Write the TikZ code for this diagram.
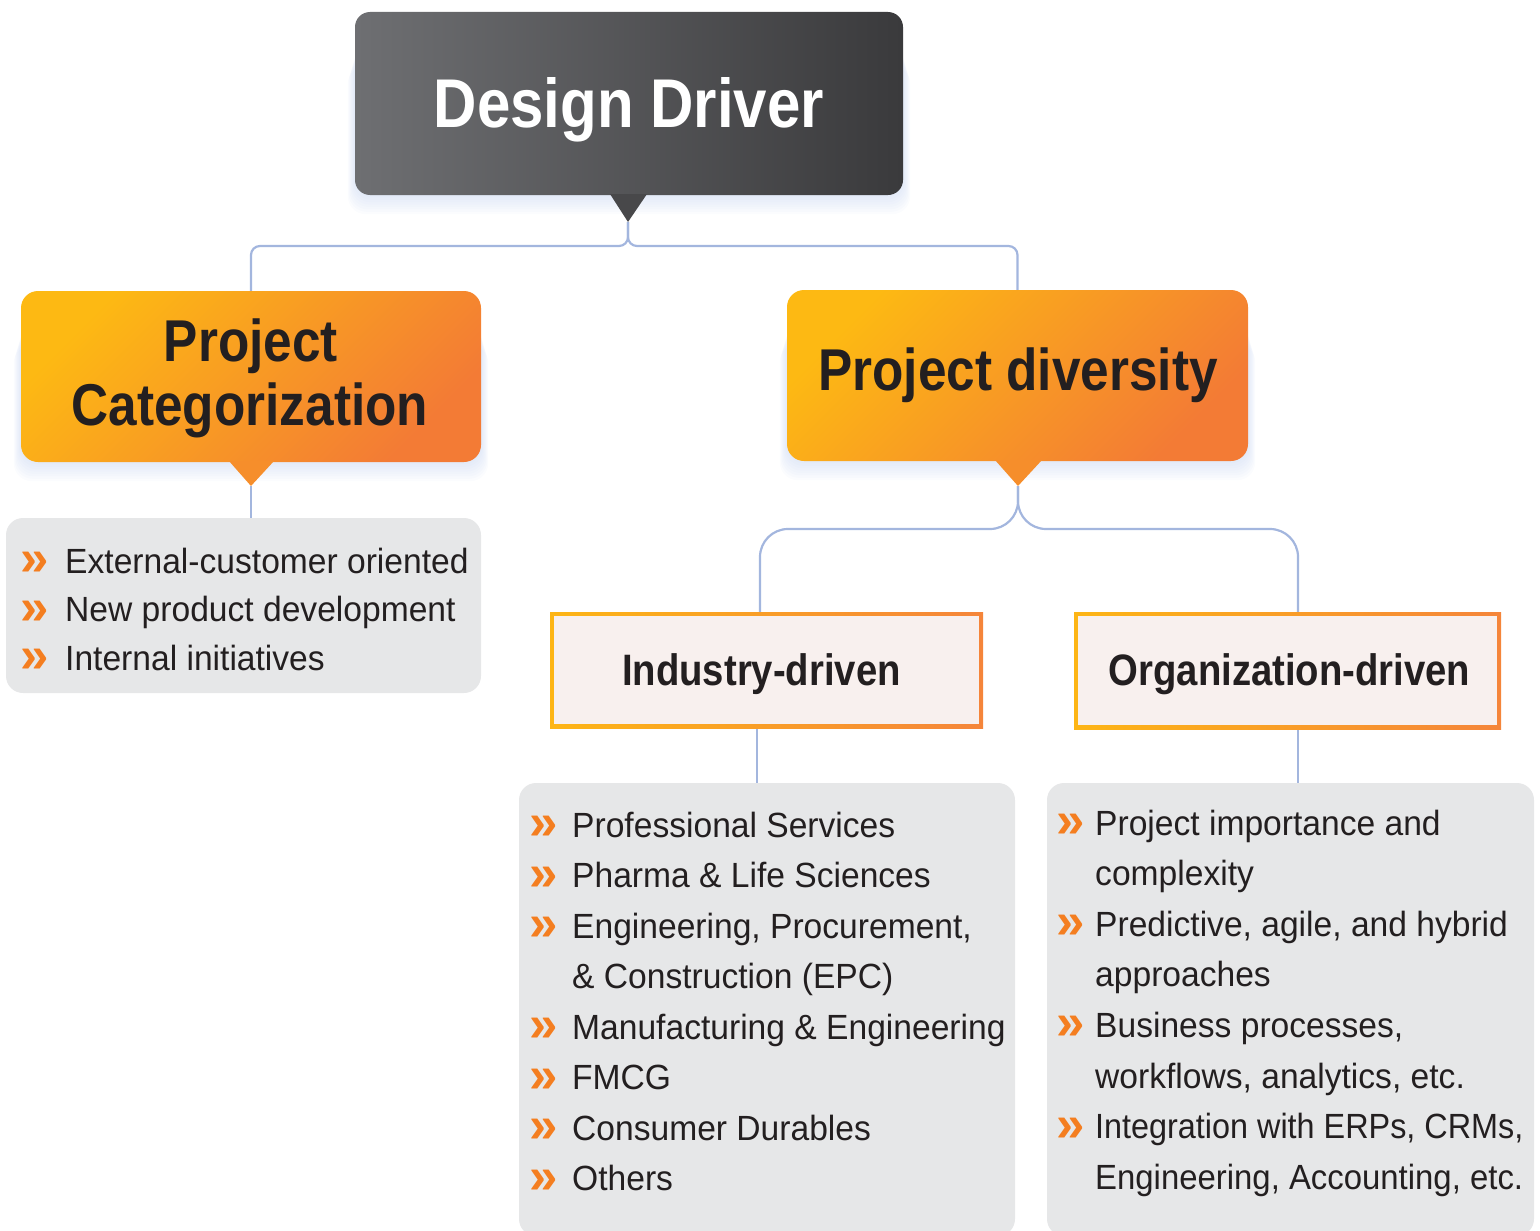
\documentclass[tikz,border=0pt]{standalone}
\usepackage{fontspec}
\newfontfamily\headfont[FakeStretch=0.87]{Liberation Sans}
\newfontfamily\bodyfont[FakeStretch=0.96]{Liberation Sans}
\newfontfamily\bodynarrow[FakeStretch=0.925]{Liberation Sans}
\newfontfamily\bodysemi[FakeStretch=0.94]{Liberation Sans}
\newfontfamily\bulfont{Liberation Sans}
\pgfdeclarelayer{glowlayer}
\pgfdeclarelayer{linelayer}
\pgfsetlayers{glowlayer,linelayer,main}

\definecolor{hdrL}{HTML}{6E6F72}
\definecolor{hdrR}{HTML}{3A3A3C}
\definecolor{hdrTip}{HTML}{48484A}
\definecolor{orA}{HTML}{FDB913}
\definecolor{orB}{HTML}{F37B35}
\definecolor{orTip}{HTML}{F68E2B}
\definecolor{bordL}{HTML}{FDB515}
\definecolor{bordR}{HTML}{F5853A}
\definecolor{pinkfill}{HTML}{F8F0EE}
\definecolor{listgray}{HTML}{E6E7E8}
\definecolor{connc}{HTML}{A3B6DE}
\definecolor{ink}{HTML}{231F20}
\definecolor{bulc}{HTML}{F47E20}
\definecolor{glowc}{HTML}{B9CBEE}

\tikzset{
  box/.style={rectangle, inner sep=0pt, outer sep=0pt, anchor=north west},
  hdrbox/.style={box, rounded corners=15pt, left color=hdrL, right color=hdrR},
  orbox/.style={box, rounded corners=17pt, top color=orA, bottom color=orB, shading angle=45},
  brdbox/.style={box, left color=bordL, right color=bordR},
  pinkbox/.style={rectangle, inner sep=0pt, outer sep=0pt, fill=pinkfill},
  listbox/.style={box, rounded corners=17pt, fill=listgray},
  connector/.style={draw=connc, line width=2.2pt},
  headtxt/.style={anchor=base, inner sep=0pt, text=ink},
  bigtxt/.style={headtxt, font=\headfont\bfseries\fontsize{69pt}{69pt}\selectfont},
  midtxt/.style={headtxt, font=\headfont\bfseries\fontsize{59pt}{59pt}\selectfont},
  smalltxt/.style={headtxt, font=\headfont\bfseries\fontsize{44pt}{44pt}\selectfont},
  itemtxt/.style={anchor=base west, inner sep=0pt, text=ink, font=\bodyfont\fontsize{35pt}{35pt}\selectfont},
  bul/.style={anchor=base west, inner sep=0pt, yshift=-2.5pt, text=bulc, font=\bulfont\bfseries\fontsize{51pt}{51pt}\selectfont}
}

\newcommand\glowrect[4]{%
  \foreach \k in {1,...,8}{%
    \fill[glowc, opacity=0.06, rounded corners=18pt]
      ({#1-\k*0.9},{#2+30+\k*3}) rectangle ({#3+\k*0.9},{#4+\k*2.4});
  }%
}
\newcommand\listitem[5]{%
  \node[bul] (#1b) at (#2,#4) {»};
  \node[itemtxt] (#1t) at (#3,#4) {#5};
}
\newcommand\listcont[4]{%
  \node[itemtxt] (#1t) at (#2,#3) {#4};
}

\begin{document}
\begin{tikzpicture}[x=1pt,y=-1pt]
\useasboundingbox (0,0) rectangle (1540,1231);

% glows
\begin{pgfonlayer}{glowlayer}
  \glowrect{355}{12}{903}{195}
  \glowrect{21}{291}{481}{462}
  \glowrect{787}{290}{1248}{461}
\end{pgfonlayer}

% header
\node[hdrbox, minimum width=548pt, minimum height=183pt] (hdr) at (355,12) {};
\fill[hdrTip] (610,194) -- (647,194) -- (628,222) -- cycle;
\coordinate (hdrtip) at (628,222);
\node[bigtxt, text=white] (hdrtxt) at (629,128) {Design Driver};

% Project Categorization
\node[orbox, minimum width=460pt, minimum height=171pt] (cat) at (21,291) {};
\fill[orTip] (229,461) -- (274,461) -- (251,486) -- cycle;
\coordinate (cattip) at (251,486);
\node[midtxt] (cattxta) at (251,361) {Project};
\node[midtxt] (cattxtb) at (250,425) {Categorization};

% Project diversity
\node[orbox, minimum width=461pt, minimum height=171pt] (div) at (787,290) {};
\fill[orTip] (995,460) -- (1042,460) -- (1018,486) -- cycle;
\coordinate (divtip) at (1018,486);
\node[midtxt] (divtxt) at (1018,390) {Project diversity};

% Industry-driven
\node[brdbox, minimum width=433pt, minimum height=116pt] (ind) at (550,612) {};
\node[pinkbox, minimum width=425pt, minimum height=108pt] (indin) at (ind.center) {};
\node[smalltxt] (indtxt) at (761.5,685) {Industry-driven};

% Organization-driven
\node[brdbox, minimum width=427pt, minimum height=117pt] (org) at (1074,612) {};
\node[pinkbox, minimum width=419pt, minimum height=109pt] (orgin) at (org.center) {};
\node[smalltxt] (orgtxt) at (1289.5,685) {Organization-driven};

% list boxes
\node[listbox, minimum width=475pt, minimum height=175pt] (catlist) at (6,518) {};
\node[listbox, minimum width=496pt, minimum height=453pt] (indlist) at (519,783) {};
\node[listbox, minimum width=487pt, minimum height=453pt] (orglist) at (1047,783) {};

% connectors
\coordinate (forka) at (0,246);
\coordinate (forkb) at (0,529);
\coordinate (indx) at (760,0);
\coordinate (indlx) at (757,0);
\coordinate (orgx) at (1298,0);
\begin{pgfonlayer}{linelayer}
  \draw[connector, rounded corners=9pt] (hdrtip) -- (hdrtip |- forka) -- (cat.north |- forka) -- (cat.north);
  \draw[connector, rounded corners=9pt] (hdrtip) -- (hdrtip |- forka) -- (div.north |- forka) -- (div.north);
  \draw[connector] (cattip) -- (catlist.north -| cattip);
  \draw[connector, rounded corners=28pt] (divtip) -- (divtip |- forkb) -- (indx |- forkb) -- (ind.north -| indx);
  \draw[connector, rounded corners=28pt] (divtip) -- (divtip |- forkb) -- (orgx |- forkb) -- (org.north -| orgx);
  \draw[connector] (ind.south -| indlx) -- (indlist.north -| indlx);
  \draw[connector] (org.south -| orgx) -- (orglist.north -| orgx);
\end{pgfonlayer}

% list 1
\listitem{la}{20}{65}{573}{External-customer oriented}
\listitem{lb}{20}{65}{621.5}{New product development}
\listitem{lc}{20}{65}{670}{Internal initiatives}

% list 2
\listitem{ma}{529}{572}{837}{Professional Services}
\listitem{mb}{529}{572}{887.5}{Pharma \& Life Sciences}
\listitem{mc}{529}{572}{938}{Engineering, Procurement,}
\listcont{md}{572}{988.5}{\& Construction (EPC)}
\listitem{me}{529}{572}{1039}{Manufacturing \& Engineering}
\listitem{mf}{529}{572}{1089.5}{FMCG}
\listitem{mg}{529}{572}{1140}{Consumer Durables}
\listitem{mh}{529}{572}{1190.5}{Others}

% list 3
\listitem{na}{1056}{1095}{835}{Project importance and}
\listcont{nb}{1095}{885.6}{complexity}
\listitem{nc}{1056}{1095}{936.2}{Predictive, agile, and hybrid}
\listcont{nd}{1095}{986.8}{approaches}
\listitem{ne}{1056}{1095}{1037.4}{Business processes,}
\listcont{nf}{1095}{1088}{workflows, analytics, etc.}
\listitem{ng}{1056}{1095}{1138.6}{{\bodynarrow Integration with ERPs, CRMs,}}
\listcont{nh}{1095}{1189.2}{{\bodysemi Engineering, Accounting, etc.}}
\end{tikzpicture}
\end{document}
